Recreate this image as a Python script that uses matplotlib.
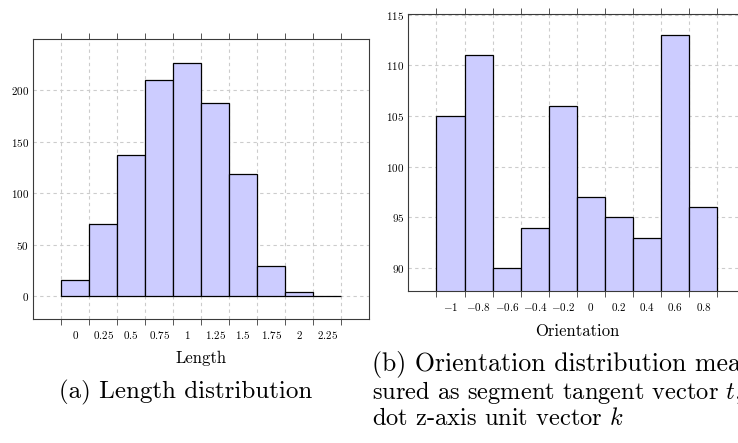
import matplotlib
matplotlib.use("Agg")
import matplotlib.pyplot as plt
from matplotlib.ticker import FixedLocator, FixedFormatter, NullFormatter

# LaTeX-like look
plt.rcParams['font.family'] = 'cmr10'
plt.rcParams['mathtext.fontset'] = 'cm'
plt.rcParams['axes.formatter.use_mathtext'] = True

# -------------------------------
# data
# -------------------------------
length_edges = [0, 0.25, 0.5, 0.75, 1.0, 1.25, 1.5, 1.75, 2.0, 2.25, 2.5]
length_counts = [16, 70, 137, 210, 227, 188, 119, 29, 4, 0]
length_labels = ['0', '0.25', '0.5', '0.75', '1', '1.25', '1.5', '1.75', '2', '2.25']
length_yticks = [0, 50, 100, 150, 200]

orient_edges = [-1.0, -0.8, -0.6, -0.4, -0.2, 0.0, 0.2, 0.4, 0.6, 0.8, 1.0]
orient_counts = [105, 111, 90, 94, 106, 97, 95, 93, 113, 96]
orient_labels = ['-1', '-0.8', '-0.6', '-0.4', '-0.2', '0', '0.2', '0.4', '0.6', '0.8']
orient_yticks = [90, 95, 100, 105, 110, 115]

bar_fill = '#ccccff'
grid_col = '#cccccc'
axis_col = '#3a3a3a'

fig = plt.figure(figsize=(7.38, 4.43), dpi=100)
ax_len = fig.add_axes([0.0451, 0.2792, 0.4553, 0.6321])
ax_ori = fig.add_axes([0.5533, 0.3431, 0.4569, 0.6253])


def style_hist(ax, edges, counts, labels, yticks):
    widths = [b - a for a, b in zip(edges[:-1], edges[1:])]
    ax.bar(edges[:-1], counts, width=widths, align='edge',
           color=bar_fill, edgecolor='black', linewidth=0.9, zorder=2)
    centers = [(a + b) / 2 for a, b in zip(edges[:-1], edges[1:])]

    # bin edges carry the tick marks, labels sit in the middle of each bin
    ax.xaxis.set_major_locator(FixedLocator(edges))
    ax.xaxis.set_major_formatter(NullFormatter())
    ax.xaxis.set_minor_locator(FixedLocator(centers))
    ax.xaxis.set_minor_formatter(FixedFormatter(['$%s$' % s for s in labels]))
    ax.tick_params(axis='x', which='major', direction='out', length=4.3,
                   width=0.7, color='#555555', top=True, bottom=True)
    ax.tick_params(axis='x', which='minor', length=0, pad=7, labelsize=8)

    ax.set_yticks(yticks)
    ax.set_yticklabels(['$%d$' % v for v in yticks])
    ax.tick_params(axis='y', length=0, pad=3, labelsize=8)

    ax.set_axisbelow(True)
    ax.grid(True, which='major', color=grid_col, linestyle=(0, (3, 3)),
            linewidth=0.8)
    for sp in ax.spines.values():
        sp.set_color(axis_col)
        sp.set_linewidth(0.8)


style_hist(ax_len, length_edges, length_counts, length_labels, length_yticks)
ax_len.set_xlim(-0.25, 2.75)
ax_len.set_ylim(-22.7, 249.7)
ax_len.set_xlabel('Length', fontsize=12, labelpad=7)

style_hist(ax_ori, orient_edges, orient_counts, orient_labels, orient_yticks)
ax_ori.set_xlim(-1.2, 1.2)
ax_ori.set_ylim(87.75, 115.05)
ax_ori.set_xlabel('Orientation', fontsize=12, labelpad=8)

# captions below the two panels (b runs past the right edge, as in the source)
fig.text(186 / 738, 1 - 392 / 443, '(a) Length distribution',
         fontsize=18, ha='center', va='center')
fig.text(372 / 738, 1 - 365 / 443, '(b) Orientation distribution mea-',
         fontsize=18.6, ha='left', va='center')
fig.text(372 / 738, 1 - 392 / 443, 'sured as segment tangent vector $t$,',
         fontsize=17.6, ha='left', va='center')
fig.text(372 / 738, 1 - 419 / 443, 'dot z-axis unit vector $k$',
         fontsize=17.6, ha='left', va='center')

fig.savefig('out.png', dpi=100)
